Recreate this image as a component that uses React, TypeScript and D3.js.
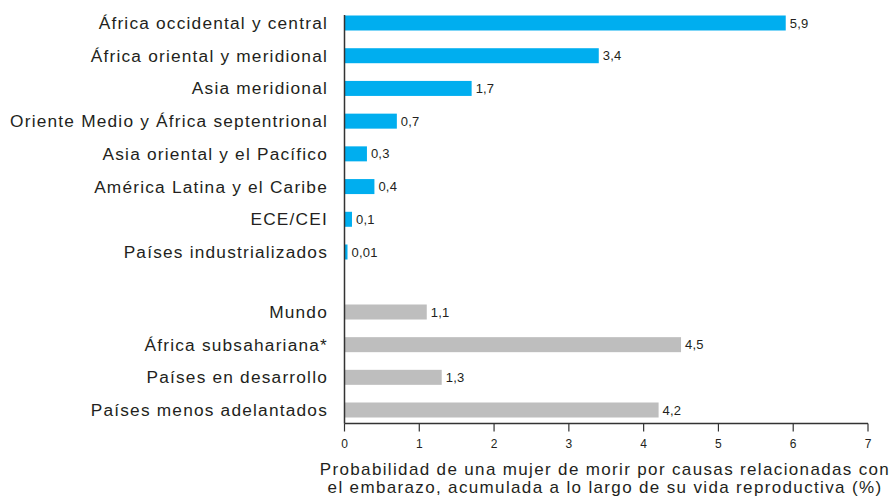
import React from "react";
import * as d3 from "d3";

const regions = [
  "África occidental y central",
  "África oriental y meridional",
  "Asia meridional",
  "Oriente Medio y África septentrional",
  "Asia oriental y el Pacífico",
  "América Latina y el Caribe",
  "ECE/CEI",
  "Países industrializados",
];
const regionValues = [5.9, 3.4, 1.7, 0.7, 0.3, 0.4, 0.1, 0.01];
const regionLabels = ["5,9", "3,4", "1,7", "0,7", "0,3", "0,4", "0,1", "0,01"];

const aggregates = ["Mundo", "África subsahariana*", "Países en desarrollo", "Países menos adelantados"];
const aggregateValues = [1.1, 4.5, 1.3, 4.2];
const aggregateLabels = ["1,1", "4,5", "1,3", "4,2"];

const xTicks = [0, 1, 2, 3, 4, 5, 6, 7];
const titleLines = [
  "Probabilidad de una mujer de morir por causas relacionadas con",
  "el embarazo, acumulada a lo largo de su vida reproductiva (%)",
];

const W = 892;
const H = 498;
const FONT = "'Liberation Sans', Arial, Helvetica, sans-serif";
const BLUE = "#00AEEF";
const GRAY = "#BEBEBE";
const TEXT = "#231F20";

export default function App() {
  const x = d3.scaleLinear().domain([0, 7]).range([344.5, 868]);
  const y1 = d3.scalePoint<string>().domain(regions).range([23, 252]);
  const y2 = d3.scalePoint<string>().domain(aggregates).range([312, 410]);
  const barH = 15;
  const axisY = 423.5;

  const groups = [
    { cats: regions, vals: regionValues, labs: regionLabels, y: y1, color: BLUE },
    { cats: aggregates, vals: aggregateValues, labs: aggregateLabels, y: y2, color: GRAY },
  ];

  return (
    <svg
      width={W}
      height={H}
      style={{ position: "absolute", left: 0, top: 0, background: "#fff" }}
      fontFamily={FONT}
    >
      {groups.map((g, gi) =>
        g.cats.map((c, i) => {
          const cy = g.y(c)!;
          const w = Math.max(x(g.vals[i]) - x(0), 3);
          return (
            <g key={`${gi}-${i}`}>
              <rect x={x(0)} y={cy - barH / 2} width={w} height={barH} fill={g.color} />
              <text
                x={x(0) + w + 4}
                y={cy}
                dy="0.35em"
                fontSize={13}
                letterSpacing={0.2}
                fill={TEXT}
              >
                {g.labs[i]}
              </text>
              <text
                x={328}
                y={cy}
                dy="0.35em"
                fontSize={17.3}
                letterSpacing={1.2}
                textAnchor="end"
                fill={TEXT}
              >
                {c}
              </text>
            </g>
          );
        })
      )}
      {/* vertical axis */}
      <line x1={x(0)} x2={x(0)} y1={15} y2={axisY} stroke="#333" strokeWidth={1.5} />
      {/* horizontal axis */}
      <line x1={x(0)} x2={x(7)} y1={axisY} y2={axisY} stroke="#333" strokeWidth={1.5} />
      {xTicks.map((t) => (
        <g key={t}>
          <line x1={x(t)} x2={x(t)} y1={axisY} y2={axisY + 8} stroke="#333" strokeWidth={1.2} />
          <text x={x(t)} y={447.5} fontSize={12} textAnchor="middle" fill={TEXT}>
            {t}
          </text>
        </g>
      ))}
      {titleLines.map((l, i) => (
        <text
          key={i}
          x={605}
          y={474.5 + i * 18}
          fontSize={17}
          letterSpacing={1.35}
          textAnchor="middle"
          fill={TEXT}
        >
          {l}
        </text>
      ))}
    </svg>
  );
}
